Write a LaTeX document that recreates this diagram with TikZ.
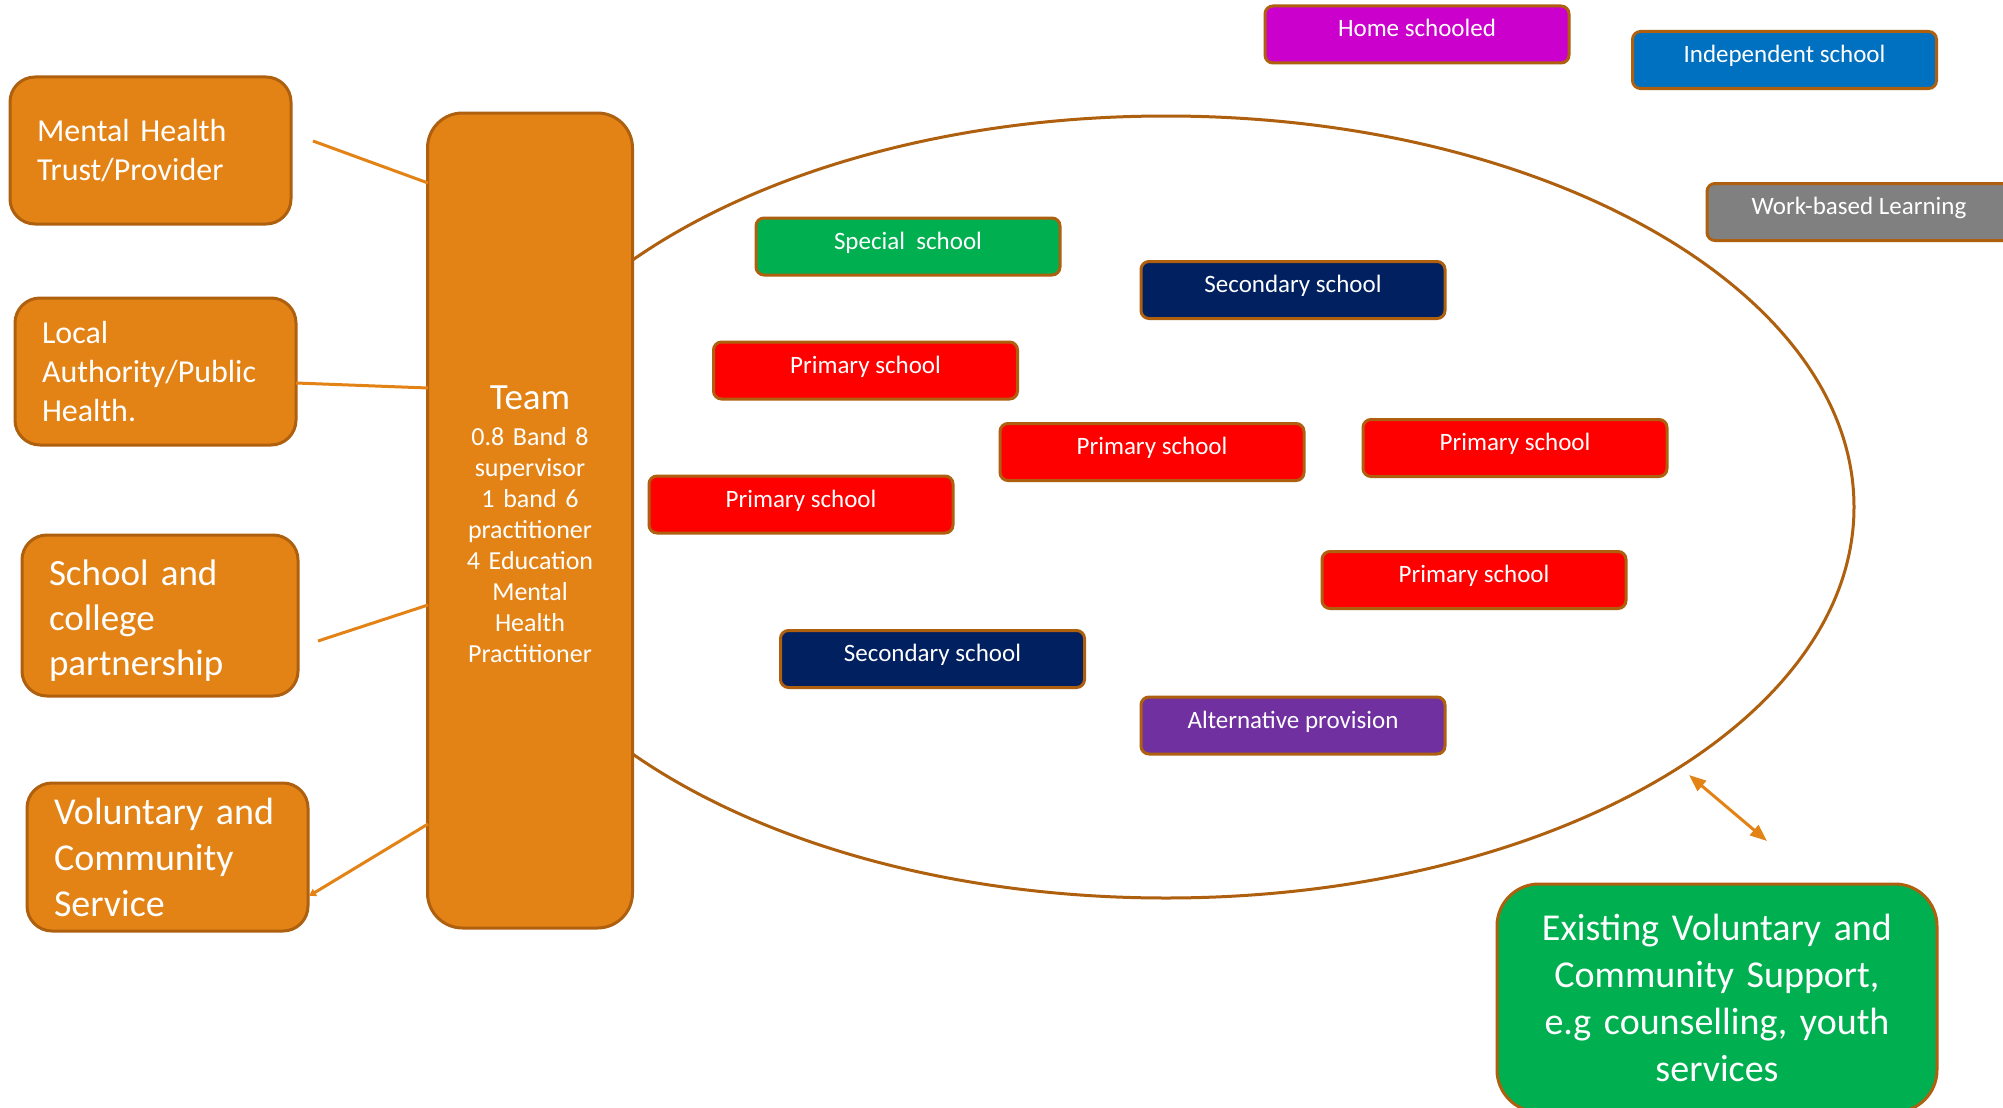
\documentclass[tikz,border=0pt]{standalone}
\usepackage{fontspec}
\setmainfont{Carlito}
\usetikzlibrary{arrows.meta}
\definecolor{orfill}{RGB}{227,131,22}
\definecolor{brn}{RGB}{174,96,14}
\definecolor{spgreen}{RGB}{0,176,80}
\definecolor{navyc}{RGB}{0,32,96}
\definecolor{altc}{RGB}{112,48,160}
\definecolor{homec}{RGB}{204,0,204}
\definecolor{indepc}{RGB}{0,112,192}
\definecolor{wblc}{RGB}{128,128,128}
\definecolor{redc}{RGB}{255,0,0}
\begin{document}
\begin{tikzpicture}[x=1pt,y=-1pt,
  sidebox/.style={draw=brn, line width=3pt, fill=orfill, rounded corners=25pt, text=white,
    align=left, inner xsep=27pt, inner ysep=0pt},
  school/.style={draw=brn, line width=3pt, rounded corners=8pt, text=white,
    minimum width=304pt, minimum height=57pt, text height=31pt, text depth=26pt,
    inner sep=0pt, font=\fontsize{25}{30}\selectfont},
  link/.style={draw=orfill, line width=3pt},
  ell/.style={draw=brn, line width=3pt}]
\useasboundingbox (0,0) rectangle (2003,1108);
\clip (0,0) rectangle (2003,1108);
\fill[white] (0,0) rectangle (2003,1108);

% ellipse (drawn first, team covers it)
\draw[ell] (1166,507) ellipse [x radius=688pt, y radius=391pt];

% team
\node[draw=brn, line width=3pt, fill=orfill, rounded corners=35pt, text=white,
  minimum width=205pt, minimum height=815pt, text width=190pt, align=center, inner sep=0pt,
  text height=32pt, font=\fontsize{26}{31}\selectfont] (team) at (530,520.5)
  {{\fontsize{37}{31}\selectfont Team}\\[5pt]0.8 Band 8\\supervisor\\1 band 6\\practitioner\\4 Education\\Mental\\Health\\Practitioner};

% side boxes
\node[sidebox, minimum width=281pt, minimum height=147pt, text width=227pt,
  font=\fontsize{32}{38.5}\selectfont] (mh) at (150.5,150.5) {Mental Health\\Trust/Provider};
\node[sidebox, minimum width=281pt, minimum height=147pt, text width=227pt,
  font=\fontsize{32}{39}\selectfont] (la) at (155.5,371.5) {Local\\Authority/Public\\Health.};
\node[sidebox, minimum width=276pt, minimum height=161pt, text width=222pt,
  text height=36pt, font=\fontsize{37}{45}\selectfont] (sc) at (160,615.5) {School and\\college\\partnership};
\node[sidebox, minimum width=281pt, minimum height=148pt, text width=227pt,
  font=\fontsize{38}{46}\selectfont] (vol) at (167.5,857) {Voluntary and\\Community\\Service};

% connector end points
\coordinate (mhA) at (313,141);
\coordinate (mhB) at (428,183);
\coordinate (laA) at (296,383);
\coordinate (laB) at (428,388);
\coordinate (scA) at (318,641);
\coordinate (scB) at (428,605);
\coordinate (volA) at (428,824);
\coordinate (volB) at (309,896);
\draw[link] (mhA) -- (mhB);
\draw[link] (laA) -- (laB);
\draw[link] (scA) -- (scB);
\draw[link, -{Triangle[length=7pt,width=8pt]}] (volA) -- (volB);

% schools
\node[school, fill=homec] (home) at (1417,34.5) {Home schooled};
\node[school, fill=indepc] (indep) at (1784.5,60) {Independent school};
\node[school, fill=wblc] (wbl) at (1859,212) {Work-based Learning};
\node[school, fill=spgreen] (special) at (908,246.5) {Special\ \ school};
\node[school, fill=navyc] (sec1) at (1293,290) {Secondary school};
\node[school, fill=redc] (p1) at (865.5,370.5) {Primary school};
\node[school, fill=redc] (p2) at (1152,452) {Primary school};
\node[school, fill=redc] (p3) at (1515,448) {Primary school};
\node[school, fill=redc] (p4) at (801,504.5) {Primary school};
\node[school, fill=redc] (p5) at (1474,580) {Primary school};
\node[school, fill=navyc] (sec2) at (932.5,659) {Secondary school};
\node[school, fill=altc] (altp) at (1293,725.5) {Alternative provision};

% existing support
\node[draw=brn, line width=3pt, fill=spgreen, rounded corners=42pt, text=white,
  minimum width=440pt, minimum height=228pt, text width=420pt, align=center, inner sep=0pt,
  font=\fontsize{38}{47}\selectfont] (exist) at (1717,998)
  {Existing Voluntary and\\Community Support,\\e.g counselling, youth\\services};

\coordinate (arA) at (1689,775);
\coordinate (arB) at (1767,841);
\draw[link, {Triangle[length=17pt,width=13pt]}-{Triangle[length=17pt,width=13pt]}] (arA) -- (arB);
\end{tikzpicture}
\end{document}
